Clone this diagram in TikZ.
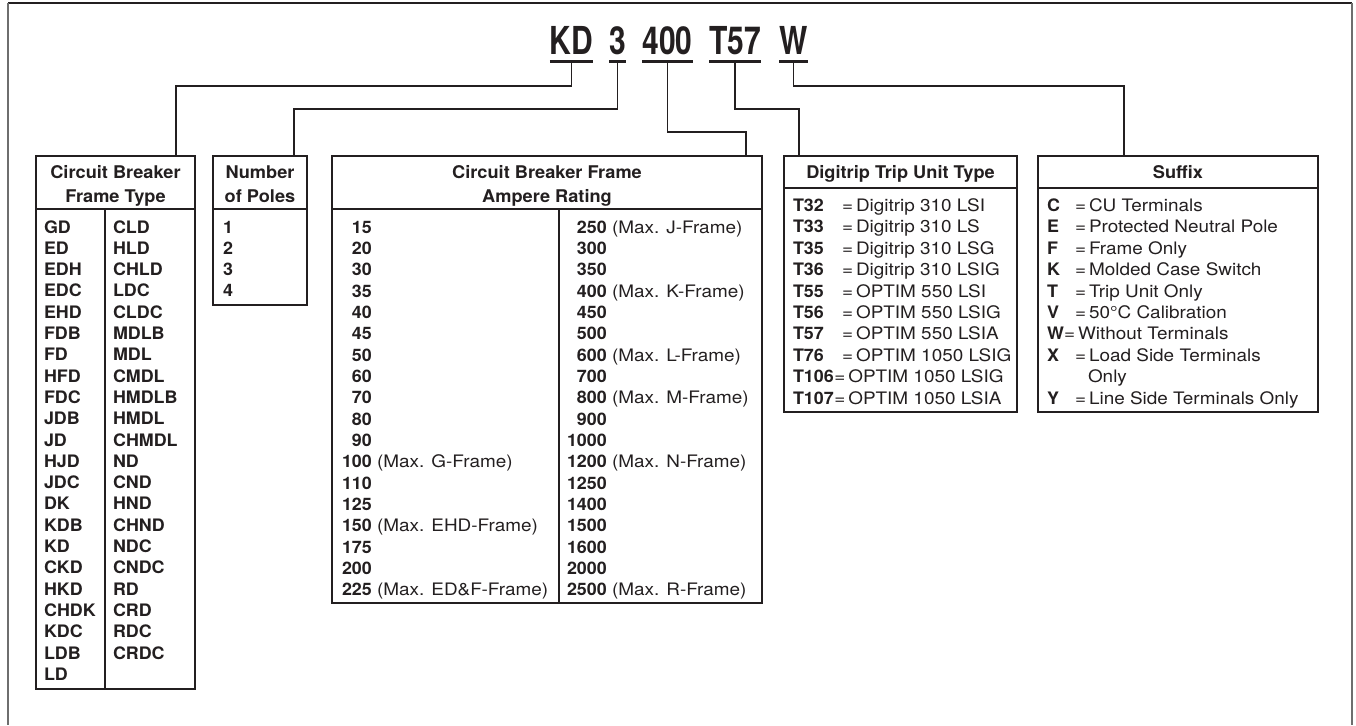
\documentclass[tikz,border=0pt]{standalone}
\usepackage{fontspec}
\setmainfont{TeX Gyre Heros}[FakeStretch=1.1]
\newfontfamily\bdfont{TeX Gyre Heros}[FakeStretch=1.04]
\newfontfamily\ttlfont{TeX Gyre Heros}[FakeStretch=0.78]
\usetikzlibrary{calc}
\definecolor{ink}{HTML}{231F20}
\definecolor{framegray}{HTML}{6E6E6E}
\newcommand{\B}[1]{{\bdfont\bfseries #1}}
\newcommand{\eq}{=\hspace{3pt}}
\begin{document}
\begin{tikzpicture}[x=1pt,y=-1pt,
  every node/.style={inner sep=0pt, outer sep=0pt, text=ink},
  body/.style={font=\fontsize{17.2}{21.35}\selectfont, anchor=base west},
  head/.style={font=\bdfont\bfseries\fontsize{17.5}{22}\selectfont, anchor=base},
  title/.style={font=\ttlfont\bfseries\fontsize{38.5}{40}\selectfont, anchor=base},
  tbl/.style={draw=ink, line width=1.3pt, anchor=north west},
  rule/.style={draw=ink, line width=1.3pt},
  conn/.style={draw=ink, line width=1.2pt},
  uline/.style={draw=ink, line width=3pt}]
\useasboundingbox (0,0) rectangle (1356,725);
% outer frame
\draw[ink, line width=1.3pt] (8,3) -- (1352,3);
\draw[framegray, line width=2.5pt] (8,3) -- (8,725);
\draw[framegray, line width=2.5pt] (1352,3) -- (1352,725);

% title
\node[title] (KD) at (571.5,55) {KD};
\node[title] (N3) at (617.5,55) {3};
\node[title] (N400) at (667.5,55) {400};
\node[title] (T57) at (735,55) {T57};
\node[title] (W) at (793.5,55) {W};
\foreach \n in {KD,N3,N400,T57,W}{
  \draw[uline] ([yshift=-6.5pt]\n.base west) -- ([yshift=-6.5pt]\n.base east);
  \coordinate (\n U) at ([yshift=-6.5pt]\n.base);
}

% tables
\node[tbl, minimum width=159pt, minimum height=533pt] (t1) at (36,156) {};
\node[tbl, minimum width=94pt, minimum height=149pt] (t2) at (213,156) {};
\node[tbl, minimum width=430pt, minimum height=447pt] (t3) at (332,156) {};
\node[tbl, minimum width=233pt, minimum height=256pt] (t4) at (784,156) {};
\node[tbl, minimum width=280pt, minimum height=256pt] (t5) at (1038,156) {};

\draw[rule] ($(t1.north west)+(0,53)$) -- ($(t1.north east)+(0,53)$);
\draw[rule] ($(t1.north west)+(69,53)$) -- ($(t1.south west)+(69,0)$);
\draw[rule] ($(t2.north west)+(0,53)$) -- ($(t2.north east)+(0,53)$);
\draw[rule] ($(t3.north west)+(0,53)$) -- ($(t3.north east)+(0,53)$);
\draw[rule] ($(t3.north west)+(227,53)$) -- ($(t3.south west)+(227,0)$);
\draw[rule] ($(t4.north west)+(0,32)$) -- ($(t4.north east)+(0,32)$);
\draw[rule] ($(t5.north west)+(0,32)$) -- ($(t5.north east)+(0,32)$);

% connectors
\draw[conn] (KDU) -- ++(0,24.5) -| ($(t1.north west)+(140,0)$);
\draw[conn] (N3U) -- ++(0,47.5) -| ($(t2.north west)+(81,0)$);
\draw[conn] (N400U) -- ++(0,70.5) -| ($(t3.north east)+(-16,0)$);
\draw[conn] (T57U) -- ++(0,47.5) -| ($(t4.north west)+(15,0)$);
\draw[conn] (WU) -- ++(0,24.5) -| ($(t5.north west)+(86,0)$);

% headers
\node[head] (h1a) at (115.5,178.5) {Circuit Breaker};
\node[head] (h1b) at (115.5,202) {Frame Type};
\node[head] (h2a) at (260,178.5) {Number};
\node[head] (h2b) at (260,202) {of Poles};
\node[head] (h3a) at (547,178.5) {Circuit Breaker Frame};
\node[head] (h3b) at (547,202) {Ampere Rating};
\node[head] (h4) at (900.5,178.5) {Digitrip Trip Unit Type};
\node[head] (h5) at (1178,178.5) {Suffix};

% frame types
\foreach \t [count=\i from 0] in {GD,ED,EDH,EDC,EHD,FDB,FD,HFD,FDC,JDB,JD,HJD,JDC,DK,KDB,KD,CKD,HKD,CHDK,KDC,LDB,LD}
  \node[body] (fa\i) at (44,233+\i*21.3) {\B{\t}};
\foreach \t [count=\i from 0] in {CLD,HLD,CHLD,LDC,CLDC,MDLB,MDL,CMDL,HMDLB,HMDL,CHMDL,ND,CND,HND,CHND,NDC,CNDC,RD,CRD,RDC,CRDC}
  \node[body] (fb\i) at (113,233+\i*21.3) {\B{\t}};

% poles
\foreach \t [count=\i from 0] in {1,2,3,4}
  \node[body] (p\i) at (223,233+\i*21.3) {\B{\t}};

% ampere ratings
\foreach \n/\m [count=\i from 0] in {\phantom{0}15/{},\phantom{0}20/{},\phantom{0}30/{},\phantom{0}35/{},\phantom{0}40/{},\phantom{0}45/{},\phantom{0}50/{},\phantom{0}60/{},\phantom{0}70/{},\phantom{0}80/{},\phantom{0}90/{},100/(Max. G-Frame),110/{},125/{},150/(Max. EHD-Frame),175/{},200/{},225/(Max. ED\&F-Frame)}
  \node[body] (aa\i) at (342,233+\i*21.35) {\B{\n} \m};
\foreach \n/\m [count=\i from 0] in {\phantom{0}250/(Max. J-Frame),\phantom{0}300/{},\phantom{0}350/{},\phantom{0}400/(Max. K-Frame),\phantom{0}450/{},\phantom{0}500/{},\phantom{0}600/(Max. L-Frame),\phantom{0}700/{},\phantom{0}800/(Max. M-Frame),\phantom{0}900/{},1000/{},1200/(Max. N-Frame),1250/{},1400/{},1500/{},1600/{},2000/{},2500/(Max. R-Frame)}
  \node[body] (ab\i) at (567,233+\i*21.35) {\B{\n} \m};

% trip units
\foreach \n/\m [count=\i from 0] in {T32/Digitrip 310 LSI,T33/Digitrip 310 LS,T35/Digitrip 310 LSG,T36/Digitrip 310 LSIG,T55/OPTIM 550 LSI,T56/OPTIM 550 LSIG,T57/OPTIM 550 LSIA,T76/OPTIM 1050 LSIG}
  \node[body] (d\i) at (793,211.5+\i*21.4) {\makebox[49pt][l]{\B{\n}}\eq\m};
\node[body] (d8) at (793,211.5+8*21.4) {\B{T106}\hspace{0.5pt}\eq OPTIM 1050 LSIG};
\node[body] (d9) at (793,211.5+9*21.4) {\B{T107}\hspace{0.5pt}\eq OPTIM 1050 LSIA};

% suffix
\foreach \n/\m [count=\i from 0] in {C/CU Terminals,E/Protected Neutral Pole,F/Frame Only,K/Molded Case Switch,T/Trip Unit Only,V/50°C Calibration}
  \node[body] (s\i) at (1047,211.5+\i*21.4) {\makebox[28pt][l]{\B{\n}}\eq\m};
\node[body] (s6) at (1047,211.5+6*21.4) {\makebox[17pt][l]{\B{W}}\eq Without Terminals};
\node[body] (s7) at (1047,211.5+7*21.4) {\makebox[28pt][l]{\B{X}}\eq Load Side Terminals};
\node[body] (s7b) at (1088,211.5+8*21.4) {Only};
\node[body] (s8) at (1047,211.5+9*21.4) {\makebox[28pt][l]{\B{Y}}\eq Line Side Terminals Only};
\end{tikzpicture}
\end{document}
